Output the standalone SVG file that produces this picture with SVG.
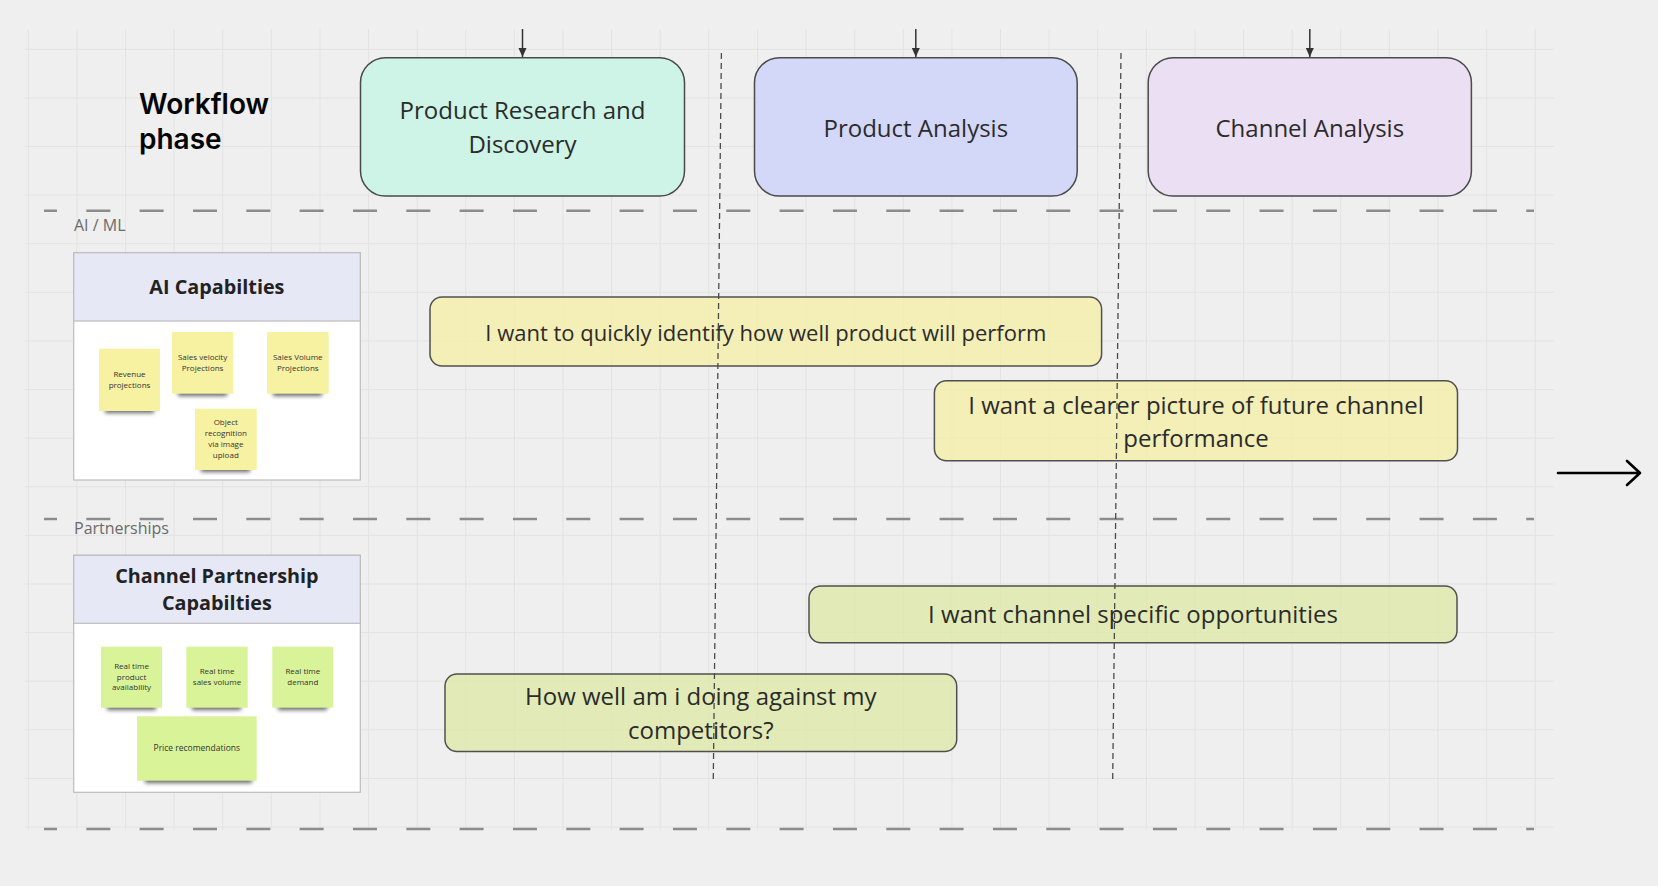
<svg xmlns="http://www.w3.org/2000/svg" width="1658" height="886" viewBox="0 0 1658 886">
<defs>
<style>
.grid{stroke:#e3e3e3;stroke-width:1;fill:none}
.lane{stroke:#8c8c8c;stroke-width:2.5;stroke-dasharray:24 29.33;stroke-dashoffset:11;fill:none}
.phase{stroke:#4a4a4a;stroke-width:1.5}
.ptext{font-family:"Open Sans",sans-serif;font-size:24px;fill:#2b2b2b;text-anchor:middle}
.lbl{font-family:"Open Sans",sans-serif;font-size:16px;fill:#6b6b6b}
.card{fill:#ffffff;stroke:#bdbdbd;stroke-width:1.2}
.cardhead{fill:#e6e8f6;stroke:#bdbdbd;stroke-width:1.2}
.ctitle{font-family:"Open Sans",sans-serif;font-size:19.8px;font-weight:700;fill:#222;text-anchor:middle}
.sy{fill:#f7f2a2}
.sg{fill:#d9f398}
.stext{font-family:"Open Sans",sans-serif;font-size:8px;fill:#333;text-anchor:middle}
.shadow{fill:#000;opacity:.6;filter:url(#blur)}
.bar{stroke:#505050;stroke-width:1.5}
.by{fill:#f5f09f;fill-opacity:.7}
.bgr{fill:#dde9a0;fill-opacity:.7}
.btext{font-family:"Open Sans",sans-serif;font-size:24px;fill:#2b2b2b;text-anchor:middle}
.vdiv{stroke:#4a4a4a;stroke-width:1.3;stroke-dasharray:6 4;fill:none}
.conn{stroke:#333;stroke-width:1.5;fill:none}
.title{font-family:Inter,"Liberation Sans",sans-serif;font-size:28px;font-weight:600;fill:#050505}
</style>
<filter id="blur" x="-20%" y="-100%" width="140%" height="300%"><feGaussianBlur stdDeviation="2"/></filter>
<marker id="ah" markerUnits="userSpaceOnUse" markerWidth="10" markerHeight="10" refX="9" refY="4.5" orient="auto">
<path d="M0,0.5 L9,4.5 L0,8.5 z" fill="#333"/>
</marker>
</defs>
<rect width="1658" height="886" fill="#efefef"/>
<g id="grid" class="grid">
<path d="M28.3,29V830M76.9,29V830M125.5,29V830M174.1,29V830M222.7,29V830M271.4,29V830M320,29V830M368.6,29V830M417.2,29V830M465.8,29V830M514.4,29V830M563,29V830M611.6,29V830M660.2,29V830M708.8,29V830M757.5,29V830M806.1,29V830M854.7,29V830M903.3,29V830M951.9,29V830M1000.5,29V830M1049.1,29V830M1097.7,29V830M1146.3,29V830M1194.9,29V830M1243.6,29V830M1292.2,29V830M1340.8,29V830M1389.4,29V830M1438,29V830M1486.6,29V830M1535.2,29V830"/>
<path d="M25,49.3H1554M25,97.9H1554M25,146.5H1554M25,195.1H1554M25,243.7H1554M25,292.4H1554M25,341H1554M25,389.6H1554M25,438.2H1554M25,486.8H1554M25,535.4H1554M25,584H1554M25,632.6H1554M25,681.2H1554M25,729.8H1554M25,778.5H1554M25,827.1H1554"/>
</g>
<g id="lanes">
<path class="lane" d="M44,210.7H1534"/>
<path class="lane" d="M44,519H1534"/>
<path class="lane" d="M44,829H1534"/>
<text class="lbl" x="74" y="231">AI / ML</text>
<text class="lbl" x="74" y="533.5">Partnerships</text>
</g>
<g id="workflow-title">
<text class="title" x="139" y="114">Workflow</text>
<text class="title" x="139" y="149">phase</text>
</g>
<g id="phase-research">
<rect class="phase" x="360.5" y="57.7" width="324" height="138.3" rx="25" fill="#cdf4e6"/>
<text class="ptext" x="522.5" y="119.3">Product Research and</text>
<text class="ptext" x="522.5" y="152.7">Discovery</text>
</g>
<g id="phase-product">
<rect class="phase" x="754.5" y="57.7" width="322.7" height="138.3" rx="25" fill="#d3d8f8"/>
<text class="ptext" x="915.8" y="136.7">Product Analysis</text>
</g>
<g id="phase-channel">
<rect class="phase" x="1148.2" y="57.7" width="323.2" height="138.3" rx="25" fill="#ebdff3"/>
<text class="ptext" x="1309.8" y="136.7">Channel Analysis</text>
</g>
<g id="ai-card">
<rect class="card" x="73.7" y="252.7" width="286.6" height="227.3"/>
<rect class="cardhead" x="73.7" y="252.7" width="286.6" height="68.3"/>
<text class="ctitle" x="216.9" y="294">AI Capabilties</text>
<rect class="shadow" x="105" y="406" width="49" height="7"/>
<rect class="sy" x="99" y="348.7" width="61" height="62.3"/>
<text class="stext" x="129.5" y="376.5">Revenue</text>
<text class="stext" x="129.5" y="387.5">projections</text>
<rect class="shadow" x="178" y="389" width="49" height="7"/>
<rect class="sy" x="172" y="332" width="61.3" height="61.7"/>
<text class="stext" x="202.6" y="359.5">Sales velocity</text>
<text class="stext" x="202.6" y="370.5">Projections</text>
<rect class="shadow" x="273" y="389" width="49" height="7"/>
<rect class="sy" x="267" y="332" width="61.7" height="61.7"/>
<text class="stext" x="297.8" y="359.5">Sales Volume</text>
<text class="stext" x="297.8" y="370.5">Projections</text>
<rect class="shadow" x="201" y="465" width="49" height="7"/>
<rect class="sy" x="195" y="408.7" width="61.7" height="61.3"/>
<text class="stext" x="225.8" y="425">Object</text>
<text class="stext" x="225.8" y="436">recognition</text>
<text class="stext" x="225.8" y="446.8">via image</text>
<text class="stext" x="225.8" y="457.5">upload</text>
</g>
<g id="partnership-card">
<rect class="card" x="73.7" y="555.3" width="286.6" height="237"/>
<rect class="cardhead" x="73.7" y="555.3" width="286.6" height="68"/>
<text class="ctitle" x="216.9" y="583">Channel Partnership</text>
<text class="ctitle" x="216.9" y="610">Capabilties</text>
<rect class="shadow" x="107" y="703" width="49" height="7"/>
<rect class="sg" x="101" y="646.7" width="61" height="61"/>
<text class="stext" x="131.5" y="668.5">Real time</text>
<text class="stext" x="131.5" y="679.5">product</text>
<text class="stext" x="131.5" y="690.3">availability</text>
<rect class="shadow" x="192" y="703" width="49" height="7"/>
<rect class="sg" x="186.3" y="646.7" width="61.4" height="61"/>
<text class="stext" x="217" y="673.8">Real time</text>
<text class="stext" x="217" y="684.8">sales volume</text>
<rect class="shadow" x="278" y="703" width="49" height="7"/>
<rect class="sg" x="272.3" y="646.7" width="61" height="61"/>
<text class="stext" x="302.8" y="673.8">Real time</text>
<text class="stext" x="302.8" y="684.8">demand</text>
<rect class="shadow" x="145" y="776" width="107" height="7"/>
<rect class="sg" x="137" y="716.3" width="119.7" height="64.4"/>
<text class="stext" x="196.8" y="750.5" style="font-size:8.5px">Price recomendations</text>
</g>
<g id="story-1">
<rect class="bar by" x="430" y="297" width="671.6" height="69" rx="12"/>
<text class="btext" x="765.8" y="340.7" style="font-size:22px">I want to quickly identify how well product will perform</text>
</g>
<g id="story-2">
<rect class="bar by" x="934.4" y="380.7" width="523.1" height="80" rx="12"/>
<text class="btext" x="1196" y="414">I want a clearer picture of future channel</text>
<text class="btext" x="1196" y="446.7">performance</text>
</g>
<g id="story-3">
<rect class="bar bgr" x="809" y="586" width="648" height="56.7" rx="12"/>
<text class="btext" x="1133" y="623.3">I want channel specific opportunities</text>
</g>
<g id="story-4">
<rect class="bar bgr" x="445" y="674" width="511.7" height="77.5" rx="12"/>
<text class="btext" x="700.8" y="705">How well am i doing against my</text>
<text class="btext" x="700.8" y="739">competitors?</text>
</g>
<g id="connectors">
<path class="vdiv" d="M721.4,53L713.3,779"/>
<path class="vdiv" d="M1121,53L1112.7,779"/>
<path class="conn" d="M522.5,29V57" marker-end="url(#ah)"/>
<path class="conn" d="M915.8,29V57" marker-end="url(#ah)"/>
<path class="conn" d="M1309.8,29V57" marker-end="url(#ah)"/>
<path d="M1558,473H1640M1627,461L1640,473L1627,485" stroke="#000" stroke-width="2.6" fill="none" stroke-linecap="round" stroke-linejoin="round"/>
</g>
</svg>
